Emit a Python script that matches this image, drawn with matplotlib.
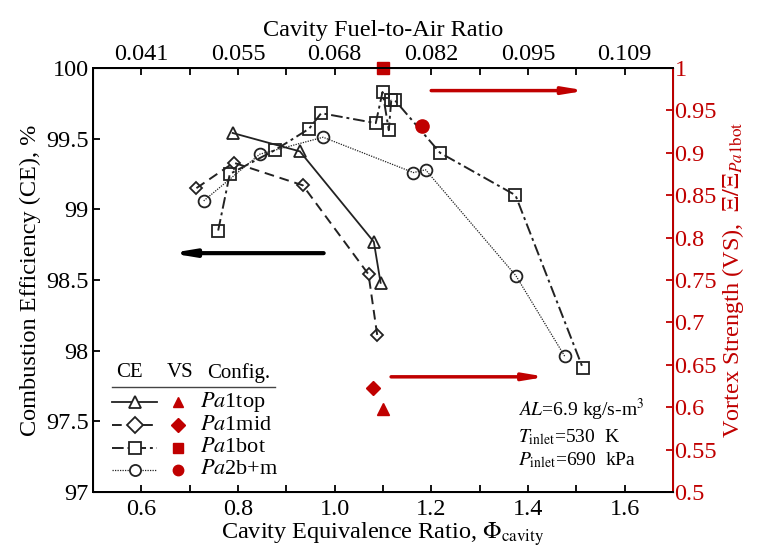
import numpy as np
import matplotlib
matplotlib.use("Agg")
import matplotlib.pyplot as plt

plt.rcParams['font.family'] = ['Liberation Serif', 'DejaVu Serif']
plt.rcParams['mathtext.fontset'] = 'stix'

RED = '#c00000'

# CE data (left axis)
top_phi = [0.789, 0.928, 1.081, 1.095]
top_ce = [99.54, 99.41, 98.77, 98.48]

mid_phi = [0.714, 0.791, 0.934, 1.070, 1.088]
mid_ce = [99.15, 99.33, 99.17, 98.54, 98.11]

bot_phi = [0.759, 0.783, 0.877, 0.947, 0.972, 1.085, 1.099, 1.112, 1.117, 1.125, 1.218, 1.374, 1.513]
bot_ce = [98.85, 99.25, 99.42, 99.57, 99.68, 99.61, 99.83, 99.56, 99.77, 99.77, 99.40, 99.10, 97.88]

bm_phi = [0.729, 0.845, 0.976, 1.163, 1.188, 1.375, 1.476]
bm_ce = [99.06, 99.39, 99.51, 99.26, 99.28, 98.53, 97.96]

# VS data (right axis)
vs_phi = [1.100, 1.079, 1.100, 1.180]
vs_val = [0.598, 0.623, 1.000, 0.932]

config = [r'$Pa$1top', r'$Pa$1mid', r'$Pa$1bot', r'$Pa$2b+m']
ce_markers = ['^', 'D', 's', 'o']
vs_markers = ['^', 'D', 's', 'o']
ce_styles = ['-', (0, (5, 3)), (0, (6, 2, 1.5, 2)), (0, (1, 1))]

far_ticks = [0.6, 0.8, 1.0, 1.2, 1.4, 1.6]
far_labels = ['0.041', '0.055', '0.068', '0.082', '0.095', '0.109']

FS = 17.5

fig = plt.figure(figsize=(7.61, 5.6), dpi=100)
ax = fig.add_axes([0.1222, 0.1214, 0.7622, 0.7572])
ax_t = ax.twiny()
ax_r = ax.twinx()

series = [(top_phi, top_ce), (mid_phi, mid_ce), (bot_phi, bot_ce), (bm_phi, bm_ce)]
msizes = [9, 6.5, 8, 8.5]
lws = [1.3, 1.4, 1.4, 0.9]
for (x, y), mk, ls, ms, lw in zip(series, ce_markers, ce_styles, msizes, lws):
    ax.plot(x, y, linestyle=ls, color='#222222', lw=lw, marker=mk, ms=ms,
            mfc='none', mec='#222222', mew=1.3)

for x, v, mk, ms in zip(vs_phi, vs_val, vs_markers, [8, 7.5, 8, 9.5]):
    ax_r.plot([x], [v], marker=mk, color=RED, ms=ms, ls='none', clip_on=False)

ax.set_xlim(0.5, 1.7)
ax.set_ylim(97, 100)
ax_r.set_ylim(0.5, 1.0)
ax_t.set_xlim(0.5, 1.7)

ax.set_xticks(np.arange(0.6, 1.61, 0.2))
ax.set_xticks(np.arange(0.5, 1.71, 0.1), minor=True)
ax.set_xticklabels(['0.6', '0.8', '1.0', '1.2', '1.4', '1.6'])
ax.set_yticks(np.arange(97, 100.01, 0.5))
ax.set_yticklabels(['97', '97.5', '98', '98.5', '99', '99.5', '100'])
ax_t.set_xticks(far_ticks)
ax_t.set_xticklabels(far_labels)
ax_t.set_xticks(np.arange(0.5, 1.71, 0.1), minor=True)
ax_r.set_yticks(np.arange(0.5, 1.001, 0.05))
ax_r.set_yticklabels(['0.5', '0.55', '0.6', '0.65', '0.7', '0.75', '0.8', '0.85', '0.9', '0.95', '1'])

for a in (ax, ax_t, ax_r):
    a.tick_params(which='both', direction='in', length=5, width=1.3, labelsize=FS)
ax.tick_params(axis='y', pad=3)
ax.tick_params(axis='x', pad=5)
ax_t.tick_params(axis='x', pad=2)
ax_r.tick_params(axis='y', colors=RED, pad=1)
for s in ax.spines.values():
    s.set_linewidth(1.4)
for s in ax_r.spines.values():
    s.set_linewidth(1.4)
ax_r.spines['right'].set_color(RED)

ax.set_xlabel(r'Cavity Equivalence Ratio, $\Phi_{\rm cavity}$', fontsize=FS, labelpad=0)
ax.set_ylabel('Combustion Efficiency (CE), %', fontsize=FS, labelpad=4)
ax_t.set_xlabel('Cavity Fuel-to-Air Ratio', fontsize=FS, labelpad=6)
ax_r.set_ylabel(r'Vortex Strength (VS),  $\Xi/\Xi_{Pa\mathrm{1bot}}$', fontsize=FS, color=RED, labelpad=2)

# arrows
ax.annotate('', xy=(0.655, 98.69), xytext=(0.983, 98.69),
            arrowprops=dict(arrowstyle='-|>,head_length=1.2,head_width=0.2', lw=3, color='black'))
ax.annotate('', xy=(1.525, 99.84), xytext=(1.194, 99.84),
            arrowprops=dict(arrowstyle='-|>,head_length=1.2,head_width=0.2', lw=2.5, color=RED))
ax.annotate('', xy=(1.443, 97.815), xytext=(1.111, 97.815),
            arrowprops=dict(arrowstyle='-|>,head_length=1.2,head_width=0.2', lw=2.5, color=RED))

# legend table
tr = ax.transAxes
ax.text(0.063, 0.281, 'CE', transform=tr, ha='center', va='center', fontsize=15)
ax.text(0.150, 0.281, 'VS', transform=tr, ha='center', va='center', fontsize=15)
ax.text(0.196, 0.281, 'Config.', transform=tr, ha='left', va='center', fontsize=15)
ax.plot([0.032, 0.313], [0.247, 0.247], transform=tr, color='#444444', lw=1)
rows_y = [0.212, 0.158, 0.104, 0.052]
for ry, mk, ls, lw, lab in zip(rows_y, ce_markers, ce_styles, lws, config):
    ax.plot([0.032, 0.111], [ry, ry], transform=tr, color='#222222', ls=ls, lw=lw)
    ax.plot([0.072], [ry], transform=tr, marker=mk, ms=8, mfc='white', mec='#222222', mew=1.3)
    ax.plot([0.146], [ry], transform=tr, marker=mk, ms=7.5, color=RED)
    ax.text(0.184, ry, lab, transform=tr, ha='left', va='center', fontsize=16)

# operating conditions
ax.text(0.733, 0.193, r'$AL$=6.9 kg/s-m$^3$', transform=tr, ha='left', va='center', fontsize=14)
ax.text(0.733, 0.130, r'$T_{\rm inlet}$=530  K', transform=tr, ha='left', va='center', fontsize=14)
ax.text(0.733, 0.075, r'$P_{\rm inlet}$=690  kPa', transform=tr, ha='left', va='center', fontsize=14)

fig.savefig('out.png', dpi=100)
